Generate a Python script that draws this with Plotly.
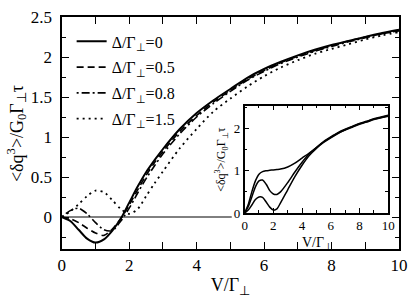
import plotly.graph_objects as go

# ---- data ----
x_main = [0, 0.25, 0.5, 0.75, 1.0, 1.25, 1.5, 1.75, 2.0, 2.25, 2.5, 2.75, 3.0,
          3.5, 4.0, 4.5, 5.0, 5.5, 6.0, 6.5, 7.0, 7.5, 8.0, 8.5, 9.0, 9.5, 10.0]
y_d0 = [0, -0.05, -0.16, -0.27, -0.32, -0.28, -0.17, -0.02, 0.18, 0.38, 0.56, 0.71, 0.85,
        1.10, 1.30, 1.46, 1.60, 1.74, 1.85, 1.94, 2.02, 2.09, 2.15, 2.20, 2.25, 2.30, 2.34]
y_d05 = [0, -0.02, -0.07, -0.14, -0.20, -0.23, -0.15, -0.02, 0.15, 0.34, 0.52, 0.68, 0.82,
         1.07, 1.27, 1.44, 1.58, 1.72, 1.83, 1.93, 2.01, 2.08, 2.14, 2.20, 2.25, 2.29, 2.33]
y_d08 = [0, 0.08, 0.11, 0.04, -0.07, -0.16, -0.17, -0.05, 0.11, 0.30, 0.48, 0.64, 0.79,
         1.04, 1.25, 1.42, 1.57, 1.71, 1.82, 1.92, 2.00, 2.07, 2.13, 2.19, 2.24, 2.29, 2.33]
y_d15 = [0, 0.07, 0.16, 0.26, 0.33, 0.31, 0.21, 0.10, 0.04, 0.10, 0.26, 0.42, 0.57,
         0.86, 1.10, 1.32, 1.48, 1.63, 1.76, 1.87, 1.96, 2.04, 2.10, 2.16, 2.22, 2.27, 2.31]
legend_names = ["Δ/Γ<sub>⊥</sub>=0", "Δ/Γ<sub>⊥</sub>=0.5",
                "Δ/Γ<sub>⊥</sub>=0.8", "Δ/Γ<sub>⊥</sub>=1.5"]

x_inset = [0, 0.25, 0.5, 0.75, 1.0, 1.25, 1.5, 1.75, 2.0, 2.25, 2.5, 3.0, 3.5,
           4.0, 4.5, 5.0, 5.5, 6.0, 6.5, 7.0, 7.5, 8.0, 8.5, 9.0, 9.5, 10.0]
y_in_top = [0, 0.20, 0.50, 0.76, 0.92, 0.98, 1.00, 1.01, 1.02, 1.03, 1.04, 1.09, 1.18,
            1.30, 1.42, 1.55, 1.69, 1.80, 1.90, 1.98, 2.05, 2.12, 2.17, 2.23, 2.27, 2.31]
y_in_mid = [0, 0.15, 0.38, 0.62, 0.76, 0.78, 0.68, 0.53, 0.45, 0.44, 0.50, 0.72, 0.97,
            1.20, 1.40, 1.55, 1.68, 1.79, 1.89, 1.97, 2.04, 2.11, 2.16, 2.22, 2.26, 2.30]
y_in_low = [0, 0.07, 0.19, 0.32, 0.38, 0.37, 0.26, 0.14, 0.07, 0.10, 0.24, 0.55, 0.86,
            1.13, 1.36, 1.53, 1.67, 1.78, 1.88, 1.96, 2.03, 2.10, 2.15, 2.21, 2.25, 2.29]

zero_line_x = [0, 5.04]
zero_line_y = [0, 0]

main_xticks = [0, 2, 4, 6, 8, 10]
main_yticks = [0, 0.5, 1, 1.5, 2, 2.5]
main_yticktext = ["0", "0.5", "1", "1.5", "2", "2.5"]
main_yrange = [-0.4, 2.5]
inset_xticks = [0, 2, 4, 6, 8, 10]
inset_yticks = [0, 1, 2]

FONT = "Liberation Serif"
YTITLE = "&lt;δq<sup>3</sup>&gt;/G<sub>0</sub>Γ<sub>⊥</sub>τ"
XTITLE = "V/Γ<sub>⊥</sub>"

fig = go.Figure()

# zero reference line, drawn on the label axis (same range as the main y axis)
fig.add_trace(go.Scatter(x=zero_line_x, y=zero_line_y, mode="lines", yaxis="y3",
                         line=dict(color="black", width=1), showlegend=False,
                         hoverinfo="skip"))

styles = [dict(color="black", width=2, dash="solid"),
          dict(color="black", width=1.6, dash="7px,4px"),
          dict(color="black", width=1.6, dash="2px,3px,8px,3px"),
          dict(color="black", width=1.8, dash="2px,4px")]
for i, (ys, name, st) in enumerate(zip([y_d0, y_d05, y_d08, y_d15], legend_names, styles)):
    fig.add_trace(go.Scatter(x=x_main, y=ys, mode="lines", name=name,
                             legendgroup=f"g{i}",
                             line=dict(shape="spline", smoothing=0.8, **st)))

for ys in [y_in_top, y_in_mid, y_in_low]:
    fig.add_trace(go.Scatter(x=x_inset, y=ys, mode="lines", xaxis="x2", yaxis="y2",
                             line=dict(color="black", width=1.5, shape="spline", smoothing=0.8),
                             showlegend=False))

axis_common = dict(showline=True, linecolor="black", mirror="allticks",
                   ticks="inside", tickcolor="black", showgrid=False, zeroline=False)

fig.update_layout(
    width=416, height=300,
    margin=dict(l=50, r=11, t=8, b=45),
    paper_bgcolor="white", plot_bgcolor="white",
    font=dict(family=FONT, color="black", size=17),
    xaxis=dict(domain=[0.0338, 1], range=[0, 10], tickvals=main_xticks,
               linewidth=2, ticklen=7, tickwidth=1.2,
               minor=dict(ticks="inside", dtick=1, ticklen=4, tickcolor="black"),
               tickfont=dict(family=FONT, size=17),
               title=dict(text=XTITLE, font=dict(family=FONT, size=18), standoff=4),
               **axis_common),
    yaxis=dict(domain=[0, 1], range=main_yrange, tickvals=main_yticks,
               showticklabels=False,
               linewidth=2, ticklen=7, tickwidth=1.2,
               minor=dict(ticks="inside", dtick=0.25, tick0=0, ticklen=4, tickcolor="black"),
               **axis_common),
    yaxis3=dict(overlaying="y", anchor="free", position=0.0057, side="left",
                range=main_yrange, tickvals=main_yticks, ticktext=main_yticktext,
                showline=False, ticks="", showgrid=False, zeroline=False,
                tickfont=dict(family=FONT, size=17)),
    xaxis2=dict(domain=[0.5577, 0.969], anchor="y2", range=[0, 10], tickvals=inset_xticks,
                linewidth=1.5, ticklen=5, tickwidth=1,
                minor=dict(ticks="inside", dtick=1, ticklen=3, tickcolor="black"),
                tickfont=dict(family=FONT, size=13),
                **axis_common),
    yaxis2=dict(domain=[0.155, 0.618], anchor="x2", range=[0, 2.54], tickvals=inset_yticks,
                linewidth=1.5, ticklen=5, tickwidth=1,
                minor=dict(ticks="inside", dtick=0.5, tick0=0, ticklen=3, tickcolor="black"),
                tickfont=dict(family=FONT, size=13),
                **axis_common),
    legend=dict(x=0.062, y=0.968, xanchor="left", yanchor="top",
                bgcolor="rgba(0,0,0,0)", font=dict(family=FONT, size=16), itemwidth=30,
                tracegroupgap=2),
    showlegend=True,
    annotations=[
        dict(text=YTITLE, xref="paper", yref="paper", x=-0.0958, y=0.498,
             xanchor="center", yanchor="middle", textangle=-90, showarrow=False,
             font=dict(family=FONT, size=18)),
        dict(text=XTITLE, xref="paper", yref="paper", x=0.766, y=0.155, yshift=-20,
             xanchor="center", yanchor="top", showarrow=False,
             font=dict(family=FONT, size=14)),
        dict(text=YTITLE, xref="paper", yref="paper", x=0.5577, y=0.387, xshift=-23,
             xanchor="center", yanchor="middle", textangle=-90, showarrow=False,
             font=dict(family=FONT, size=12)),
    ],
)

fig.write_html("out.html", config={"displayModeBar": False},
               post_script="document.body.style.margin='0';document.body.style.overflow='hidden';")
